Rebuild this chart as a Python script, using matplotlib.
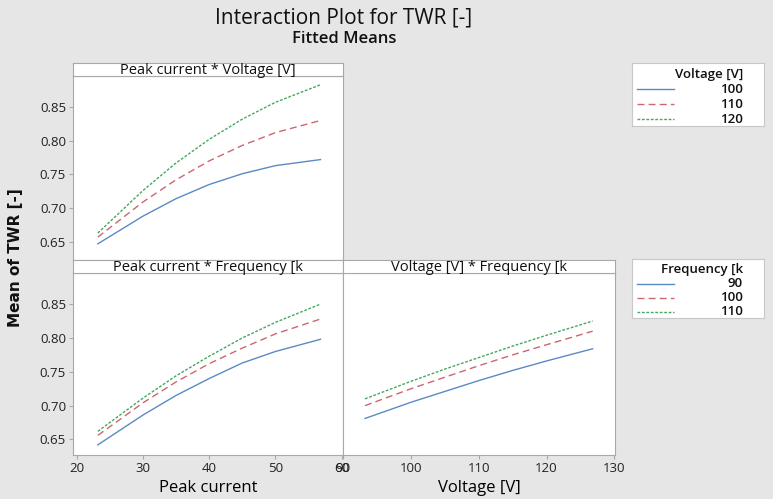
import matplotlib

matplotlib.use("Agg")
import matplotlib.pyplot as plt

# ---- data ----
peak_current = [23.2, 30, 35, 40, 45, 50, 56.8]
voltage = [93.2, 100, 105, 110, 115, 120, 126.8]

# Peak current * Voltage [V]
pv_100 = [0.647, 0.688, 0.714, 0.735, 0.751, 0.763, 0.772]
pv_110 = [0.657, 0.709, 0.742, 0.770, 0.793, 0.812, 0.830]
pv_120 = [0.663, 0.726, 0.767, 0.802, 0.832, 0.857, 0.883]

# Peak current * Frequency [k
pf_90 = [0.642, 0.686, 0.715, 0.740, 0.763, 0.780, 0.798]
pf_100 = [0.656, 0.704, 0.735, 0.762, 0.785, 0.806, 0.828]
pf_110 = [0.662, 0.711, 0.744, 0.773, 0.800, 0.823, 0.850]

# Voltage [V] * Frequency [k
vf_90 = [0.681, 0.705, 0.721, 0.737, 0.752, 0.766, 0.784]
vf_100 = [0.700, 0.725, 0.742, 0.759, 0.775, 0.790, 0.810]
vf_110 = [0.710, 0.736, 0.754, 0.771, 0.788, 0.804, 0.825]

volt_levels = ["100", "110", "120"]
freq_levels = ["90", "100", "110"]
y_ticks = [0.65, 0.70, 0.75, 0.80, 0.85]

BG = "#e6e6e6"
EDGE = "#a8a8a8"
STYLES = [
    dict(color="#5a8ac6", ls="-", lw=1.0),
    dict(color="#cc6670", ls=(0, (5, 3)), lw=1.0),
    dict(color="#45a85c", ls=(0, (2, 1.2)), lw=1.0),
]
FONT = "Open Sans"
W, H = 773, 499


def rect(x0, y0, x1, y1):
    return [x0 / W, 1 - y1 / H, (x1 - x0) / W, (y1 - y0) / H]


def style_panel(ax, xlim, xticks, show_x, show_y):
    ax.set_facecolor("white")
    ax.set_xlim(*xlim)
    ax.set_ylim(0.627, 0.896)
    ax.set_xticks(xticks)
    ax.set_yticks(y_ticks)
    ax.set_yticklabels([f"{v:.2f}" for v in y_ticks])
    ax.tick_params(direction="out", length=3, width=0.8, color=EDGE,
                   labelsize=9.5, labelcolor="#222222", pad=2)
    for lab in ax.get_xticklabels() + ax.get_yticklabels():
        lab.set_family(FONT)
    if not show_x:
        ax.tick_params(axis="x", bottom=False, labelbottom=False)
    if not show_y:
        ax.tick_params(axis="y", left=False, labelleft=False)
    for s in ax.spines.values():
        s.set_color(EDGE)
        s.set_linewidth(0.8)


def strip(box, text):
    sa = fig.add_axes(rect(*box))
    sa.set_facecolor("white")
    sa.set_xticks([])
    sa.set_yticks([])
    for s in sa.spines.values():
        s.set_color(EDGE)
        s.set_linewidth(0.8)
    sa.text(0.5, 0.45, text, ha="center", va="center", fontsize=10.5,
            family=FONT, color="#111111", transform=sa.transAxes)


def legend_box(box, title, labels):
    la = fig.add_axes(rect(*box))
    la.set_facecolor("white")
    la.set_xlim(0, 1)
    la.set_ylim(0, 1)
    la.set_xticks([])
    la.set_yticks([])
    for s in la.spines.values():
        s.set_color("#c8c8c8")
        s.set_linewidth(0.8)
    n = len(labels) + 1
    rows = [1 - (i + 0.75) / (n + 0.2) for i in range(n)]
    la.text(0.84, rows[0], title, ha="right", va="center", fontsize=9.5,
            family=FONT, weight="semibold", color="#111111")
    for lab, st, yy in zip(labels, STYLES, rows[1:]):
        la.plot([0.04, 0.32], [yy, yy], **st)
        la.text(0.84, yy, lab, ha="right", va="center", fontsize=9.5,
                family=FONT, weight="semibold", color="#111111")


fig = plt.figure(figsize=(W / 100, H / 100), dpi=100, facecolor=BG)

ax_pv = fig.add_axes(rect(73, 76, 343, 260))
ax_pf = fig.add_axes(rect(73, 273, 343, 455))
ax_vf = fig.add_axes(rect(343, 273, 615, 455))

for ys, st in zip((pv_100, pv_110, pv_120), STYLES):
    ax_pv.plot(peak_current, ys, **st)
for ys, st in zip((pf_90, pf_100, pf_110), STYLES):
    ax_pf.plot(peak_current, ys, **st)
for ys, st in zip((vf_90, vf_100, vf_110), STYLES):
    ax_vf.plot(voltage, ys, **st)

style_panel(ax_pv, (19.45, 60.2), [20, 30, 40, 50, 60], False, True)
ax_pv.set_ylim(0.623, 0.896)
style_panel(ax_pf, (19.45, 60.2), [20, 30, 40, 50, 60], True, True)
style_panel(ax_vf, (89.95, 130.1), [90, 100, 110, 120, 130], True, False)

ax_pf.set_xlabel("Peak current", fontsize=12, family=FONT, labelpad=4)
ax_vf.set_xlabel("Voltage [V]", fontsize=12, family=FONT, labelpad=4)

strip((73, 63, 343, 76), "Peak current * Voltage [V]")
strip((73, 260, 343, 273), "Peak current * Frequency [k")
strip((343, 260, 615, 273), "Voltage [V] * Frequency [k")

legend_box((632, 63, 764, 126), "Voltage [V]", volt_levels)
legend_box((632, 259, 764, 318), "Frequency [k", freq_levels)

fig.text(344 / W, 1 - 18 / H, "Interaction Plot for TWR [-]", ha="center",
         va="center", fontsize=15, family=FONT, color="#111111")
fig.text(344 / W, 1 - 39 / H, "Fitted Means", ha="center", va="center",
         fontsize=12, family=FONT, weight="semibold", color="#111111")
fig.text(16 / W, 1 - 258 / H, "Mean of TWR [-]", ha="center", va="center",
         rotation=90, fontsize=11, weight="bold", color="#111111")

fig.savefig("out.png", dpi=100, facecolor=BG)
